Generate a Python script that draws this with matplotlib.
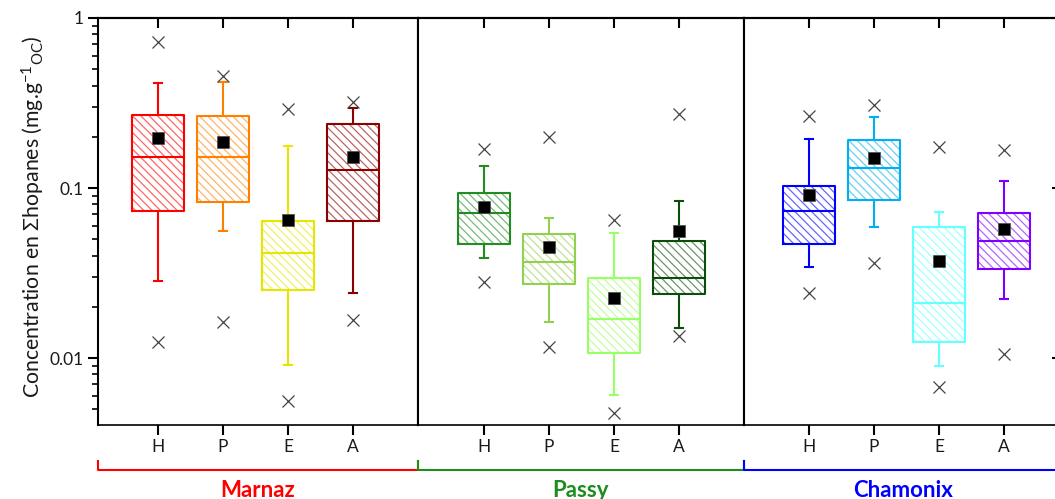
import numpy as np
import matplotlib
matplotlib.use("Agg")
import matplotlib.pyplot as plt
from matplotlib.lines import Line2D
from matplotlib.ticker import LogLocator, NullFormatter, FixedFormatter, FixedLocator
from matplotlib.colors import to_rgb

plt.rcParams['font.family'] = ['Lato', 'DejaVu Sans']
plt.rcParams['mathtext.fontset'] = 'custom'
plt.rcParams['mathtext.rm'] = 'Lato'
plt.rcParams['mathtext.it'] = 'Lato:italic'
plt.rcParams['hatch.linewidth'] = 0.9

# ---- data (per site x season) ----
sites = ["Marnaz", "Passy", "Chamonix"]
site_colors = ["#FF0000", "#1E8C1E", "#0000FF"]
seasons = ["H", "P", "E", "A"]
box_colors = [
    ["#FF0000", "#FF8000", "#E6E600", "#8B0000"],
    ["#228B22", "#92D050", "#99FF66", "#0B4D0B"],
    ["#0000FF", "#00B0F0", "#66FFFF", "#8000FF"],
]
whislo = [[0.0284, 0.0561, 0.00906, 0.0242], [0.0389, 0.01636, 0.00606, 0.01494], [0.0343, 0.059, 0.00901, 0.0222]]
q1 = [[0.0733, 0.083, 0.0252, 0.064], [0.047, 0.0273, 0.01064, 0.0237], [0.0466, 0.085, 0.01236, 0.0333]]
med = [[0.152, 0.153, 0.0413, 0.127], [0.071, 0.0365, 0.01695, 0.0297], [0.0733, 0.1317, 0.0211, 0.049]]
mean = [[0.198, 0.186, 0.0651, 0.152], [0.0769, 0.0448, 0.0226, 0.0561], [0.0914, 0.1508, 0.0373, 0.0571]]
q3 = [[0.268, 0.265, 0.0637, 0.238], [0.0939, 0.0534, 0.0297, 0.0488], [0.1023, 0.192, 0.059, 0.0713]]
whishi = [[0.413, 0.422, 0.1766, 0.294], [0.135, 0.0669, 0.0546, 0.0839], [0.195, 0.262, 0.0719, 0.1094]]
vmin = [[0.01247, 0.01636, 0.00561, 0.01674], [0.0281, 0.01166, 0.00473, 0.01352], [0.024, 0.0361, 0.00672, 0.01056]]
vmax = [[0.727, 0.456, 0.292, 0.321], [0.170, 0.2005, 0.0645, 0.272], [0.265, 0.308, 0.174, 0.1667]]

W, H = 1055, 499
LEFTS = [98, 418, 744]
RIGHTS = [418, 744, 1062]
TOP, BOT = 18, 425
XLIMS = [(1 - 60 / 65, 5.0), (1 - 66 / 65, 5.0), (0.0, 4.892)]
YLIM = (0.004036, 1.0)
LW = 1.5
TXT = "#1a1a1a"


def lighten(c, f=0.4):
    r, g, b = to_rgb(c)
    return (r + (1 - r) * f, g + (1 - g) * f, b + (1 - b) * f)


fig = plt.figure(figsize=(W / 100, H / 100), dpi=100)
axes = []
for i in range(3):
    ax = fig.add_axes([LEFTS[i] / W, 1 - BOT / H, (RIGHTS[i] - LEFTS[i]) / W, (BOT - TOP) / H])
    axes.append(ax)

pos = [1, 2, 3, 4]
for i, ax in enumerate(axes):
    ax.set_yscale("log")
    for j in range(4):
        st = [dict(med=med[i][j], q1=q1[i][j], q3=q3[i][j], whislo=whislo[i][j], whishi=whishi[i][j],
                   mean=mean[i][j], fliers=[vmin[i][j], vmax[i][j]])]
        c = box_colors[i][j]
        # hatched fill layer
        ax.bxp(st, positions=[pos[j]], widths=0.8, patch_artist=True, showcaps=False, showfliers=False,
               manage_ticks=False,
               boxprops=dict(facecolor="white", edgecolor=lighten(c), hatch="\\\\\\\\", linewidth=0),
               whiskerprops=dict(linewidth=0), medianprops=dict(linewidth=0))
        # outline, whiskers, median, mean, outliers
        ax.bxp(st, positions=[pos[j]], widths=0.8, capwidths=0.13, showmeans=True, manage_ticks=False,
               boxprops=dict(color=c, linewidth=LW), whiskerprops=dict(color=c, linewidth=LW),
               capprops=dict(color=c, linewidth=LW), medianprops=dict(color=c, linewidth=LW),
               meanprops=dict(marker="s", markerfacecolor="black", markeredgecolor="#555555",
                              markeredgewidth=0.6, markersize=8),
               flierprops=dict(marker="x", markeredgecolor="#444444", markersize=9, markeredgewidth=0.9))
    ax.set_xlim(*XLIMS[i])
    ax.set_ylim(*YLIM)
    for s in ax.spines.values():
        s.set_linewidth(LW)
    ax.spines["bottom"].set_linewidth(1.2)
    ax.set_xticks(pos)
    ax.set_xticklabels(seasons, fontsize=12.5, color=TXT)
    ax.tick_params(axis="x", direction="out", length=7, width=LW, pad=3)
    sec = ax.secondary_xaxis("top")
    sec.set_xticks(pos)
    sec.tick_params(axis="x", direction="in", length=7, width=LW, labeltop=False)
    sec.spines["top"].set_linewidth(LW)

    # bracket + site name below each panel (the reference cuts these at the bottom edge)
    yh, yv = -0.1106, -0.0885
    ax.add_line(Line2D([0, 0, 1, 1], [yv, yh, yh, yv], transform=ax.transAxes, clip_on=False,
                       color=site_colors[i], linewidth=LW))
    ax.text(0.5, -0.177, sites[i], transform=ax.transAxes, ha="center", va="baseline",
            color=site_colors[i], fontsize=16, fontweight="bold")

# y axis: labels on the first panel, inward major ticks on the far right
ax0 = axes[0]
ax0.yaxis.set_major_locator(FixedLocator([0.01, 0.1, 1]))
ax0.yaxis.set_major_formatter(FixedFormatter(["0.01", "0.1", "1"]))
ax0.yaxis.set_minor_locator(LogLocator(base=10, subs=np.arange(2, 10)))
ax0.yaxis.set_minor_formatter(NullFormatter())
ax0.tick_params(axis="y", which="major", direction="out", length=7, width=LW, labelsize=12.5,
                labelcolor=TXT, pad=3)
ax0.tick_params(axis="y", which="minor", direction="out", length=4, width=1.2)
for ax in axes[1:]:
    ax.tick_params(axis="y", which="both", left=False, labelleft=False)
axes[2].yaxis.set_major_locator(FixedLocator([0.01, 0.1, 1]))
axes[2].tick_params(axis="y", which="major", right=True, direction="in", length=7, width=LW)
axes[2].tick_params(axis="y", which="minor", right=False)

fig.text(33 / W, 0.565, r"Concentration en $\Sigma$hopanes (mg.g$^{-1}$$_{\mathrm{OC}}$)",
         rotation=90, ha="center", va="center", fontsize=15.3, color=TXT)

fig.savefig("out.png", dpi=100)
